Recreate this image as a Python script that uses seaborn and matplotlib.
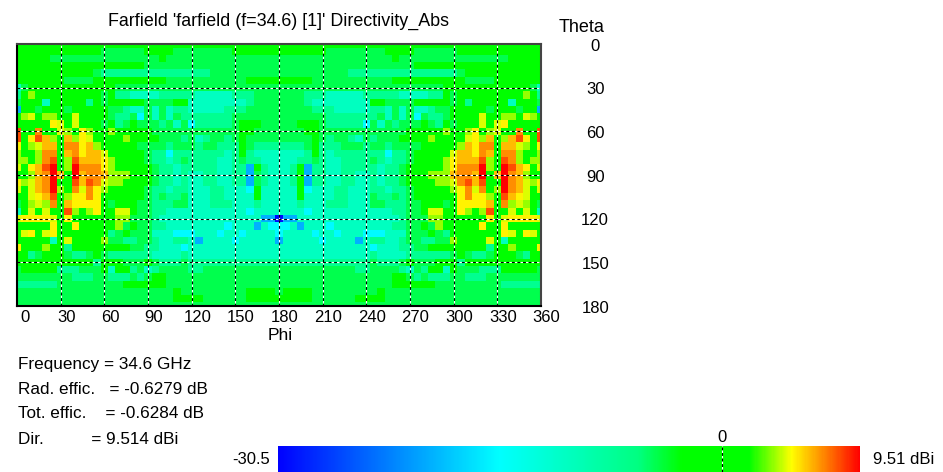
import numpy as np
import pandas as pd
import seaborn as sns
import matplotlib.pyplot as plt
from matplotlib.colors import LinearSegmentedColormap

# one character per 5 degree cell, looked up in level_db
level_codes = "0123456789abcd"
level_db = [-30, -20, -15.5, -10.5, -7, -4.5, -1, 3.6, 4.4, 5, 6, 6.9, 8.1, 9.5]

phi_ticks = [0, 30, 60, 90, 120, 150, 180, 210, 240, 270, 300, 330, 360]
theta_ticks = [0, 30, 60, 90, 120, 150, 180]

# phi 0..180, rows are theta 0..180
left_rows = [
    "6666666666 6666666666 6666666666 6666666",
    "6666666666 6655555566 6655555555 6666666",
    "6666655555 5555555555 6555555555 5555555",
    "6666666666 6666666655 5555555555 5555555",
    "6666666666 6544444444 4444444555 5555555",
    "6666666555 5666666666 6555555555 5566666",
    "3566666666 6666555555 5555555555 5555555",
    "4676666666 6656443333 4444433333 4445555",
    "5666366666 4656666655 5566333333 3345555",
    "1665666566 6665543353 5344333334 4455555",
    "6786776686 6665445253 5354444444 5555555",
    "6666698686 6656456555 4535244444 5666555",
    "c66b668769 7667666665 5555555555 5665555",
    "c69ca76a79 8666676666 5554534554 5655555",
    "9678aa6bb9 a766666555 5455545544 4654444",
    "7667bb6ab9 aa86666654 4244444443 4643333",
    "7767bc67ca aa97666654 4345444433 4544333",
    "869acd67db bb97666665 4434444433 4416433",
    "667abda6da bba7776665 4434334433 4415433",
    "978abd66ca cb87766665 4434334433 4415433",
    "868abd76b8 b976666654 4344333443 3326333",
    "6689ac6799 b966666654 5445333443 3336333",
    "56787b6a99 9965666554 4455333444 3334333",
    "3686866c76 7966886554 4333333333 3323333",
    "8999986966 6666775554 3333333333 3333110",
    "6666696696 6666756554 4333333332 3331322",
    "6896896666 6664565553 3322233323 3233332",
    "6666636866 6675544554 3344313333 2333331",
    "9666766466 6666665544 3332333333 3333333",
    "6645666544 5654444443 3334333333 3333333",
    "6666666666 6466655565 4445444444 4444444",
    "5666664445 5563664534 5555445555 5555555",
    "5555555544 4554445456 6555555555 5555555",
    "4444445555 5555566666 6555555555 5555555",
    "5555555555 5555555555 5565555555 5566665",
    "5555555555 5555555555 5566665555 5566666",
    "5555555555 5555555555 5555555555 5555555",
]

# phi 185..360
right_rows = [
    "666666 6666666666 6666666666 6666666666",
    "666666 5555555566 6655555566 6666666666",
    "555555 5555555556 5555555555 5555566666",
    "555555 5555555555 5566666666 6666666666",
    "555555 5554444444 4444444456 6666666666",
    "666655 5555555556 6666666665 5556666666",
    "555555 5555555555 5555556666 6666666653",
    "555444 3333344444 3333446566 6666666764",
    "555433 3333336655 5566666564 6666636665",
    "555544 4333334435 3533455666 6656665661",
    "555555 4444444535 3525445666 6866776876",
    "556665 4444425354 5556546566 6868966666",
    "555665 5555555555 5666667667 967866b66c",
    "555565 4554354555 6666766668 97a67ac96c",
    "444564 4455545545 555666667a 9bb6aa8769",
    "333464 3444444424 45666668aa 9ba6bb7667",
    "334454 3344445434 45666679aa ac76cb7677",
    "346144 3344444344 56666679bb bd76dca968",
    "346144 3344334344 5666777abb ad6adba766",
    "346144 3344334344 56666778bc ac66dba879",
    "336233 3443334434 456666679b 8b67dba868",
    "336333 3443335445 456666669b 9976ca9866",
    "334333 4443335544 4556665699 99a6b78765",
    "333233 3333333334 4556886697 67c6686863",
    "113333 3333333333 4555776666 6696899998",
    "231333 2333333334 4556576666 6966966666",
    "333323 3233322233 3555654666 6666986986",
    "333332 3333134433 4554455766 6686366666",
    "333333 3333332333 4455666666 6646676669",
    "333333 3333334333 3444444565 4456665466",
    "444444 4444445444 5655566646 6666666666",
    "555555 5555445555 4354663655 5444666665",
    "555555 5555555556 6545444554 4455555555",
    "555555 5555555556 6666655555 5555444444",
    "666655 5555555655 5555555555 5555555555",
    "666655 5555666655 5555555555 5555555555",
    "555555 5555555555 5555555555 5555555555",
]

info_lines = ["Frequency = 34.6 GHz", "Rad. effic.   = -0.6279 dB", "Tot. effic.    = -0.6284 dB", "Dir.          = 9.514 dBi"]


def decode(row):
    return [level_db[level_codes.index(c)] for c in row.replace(" ", "")]


def main():
    values = [decode(l) + decode(r) for l, r in zip(left_rows, right_rows)]
    farfield = pd.DataFrame(values, index=np.arange(0, 181, 5), columns=np.arange(0, 361, 5))

    cstops = [(0, "#0000ff"), (0.38, "#00ffff"), (0.62, "#00ff80"), (0.694, "#00ff00"),
              (0.81, "#00ff00"), (0.883, "#ffff00"), (1, "#ff0000")]
    cmap = LinearSegmentedColormap.from_list("cst", cstops, N=512)

    sns.set_theme(style="white")
    plt.rcParams["font.family"] = ["Liberation Sans", "DejaVu Sans"]
    W, H = 943, 472
    fig = plt.figure(figsize=(W / 100, H / 100), dpi=100)
    ax = fig.add_axes([17 / W, 1 - 306 / H, 524 / W, 262 / H])
    cax = fig.add_axes([278 / W, 0, 582 / W, 26 / H])

    sns.heatmap(farfield, cmap=cmap, vmin=-30.5, vmax=9.51, ax=ax, cbar_ax=cax,
                cbar_kws={"orientation": "horizontal"}, xticklabels=False, yticklabels=False)
    ax.set_xlim(0.5, 72.5)
    ax.set_ylim(36.5, 0.5)
    ax.set_xlabel("")
    ax.set_ylabel("")

    # dashed grid, black and white dashes in turn
    for p in phi_ticks[1:-1]:
        ax.axvline(p / 5 + 0.5, color="black", lw=0.8, dashes=(2.5, 2.5), gapcolor="white")
    for t in theta_ticks[1:-1]:
        ax.axhline(t / 5 + 0.5, color="black", lw=0.8, dashes=(2.5, 2.5), gapcolor="white")

    for name, spine in ax.spines.items():
        spine.set_visible(True)
        spine.set_linewidth(1.5)
        spine.set_color("black" if name in ("left", "bottom") else "#444444")

    ax.set_xticks([])
    ax.set_yticks([])

    tick_font = {"fontsize": 12, "color": "black", "ha": "center", "va": "center"}
    for p in phi_ticks:
        dx = 6 if p == 0 else 4
        ax.annotate(str(p), xy=(p / 5 + 0.5, 0), xycoords=("data", "axes fraction"),
                    xytext=(dx, -8), textcoords="offset points", **tick_font)
    for t in theta_ticks:
        ax.annotate(str(t), xy=(1, t / 5 + 0.5), xycoords=("axes fraction", "data"),
                    xytext=(39, -1.5), textcoords="offset points", **tick_font)

    fig.text(278 / W, 1 - 21 / H, "Farfield 'farfield (f=34.6) [1]' Directivity_Abs", ha="center",
             va="center", fontsize=12.9, color="black")
    fig.text(582 / W, 1 - 27 / H, "Theta", ha="center", va="center", fontsize=13, color="black")
    fig.text(280 / W, 1 - 335 / H, "Phi", ha="center", va="center", fontsize=12.5, color="black")

    for line, y in zip(info_lines, [364, 389, 414, 439]):
        fig.text(18 / W, 1 - y / H, line, ha="left", va="center", fontsize=12.3, color="black")

    fig.text(270 / W, 1 - 459 / H, "-30.5", ha="right", va="center", fontsize=12, color="black")
    fig.text(873 / W, 1 - 459 / H, "9.51 dBi", ha="left", va="center", fontsize=12, color="black")

    cbar = ax.collections[0].colorbar
    cbar.outline.set_visible(False)
    cbar.set_ticks([0])
    cbar.ax.xaxis.set_ticks_position("top")
    cbar.ax.set_xticklabels(["0"], fontsize=12, color="black")
    cbar.ax.tick_params(axis="x", length=0, pad=1)
    cbar.ax.axvline(0, color="black", lw=0.8, dashes=(2.5, 2.5), gapcolor="white")

    fig.savefig("out.png", dpi=100)


if __name__ == "__main__":
    main()
